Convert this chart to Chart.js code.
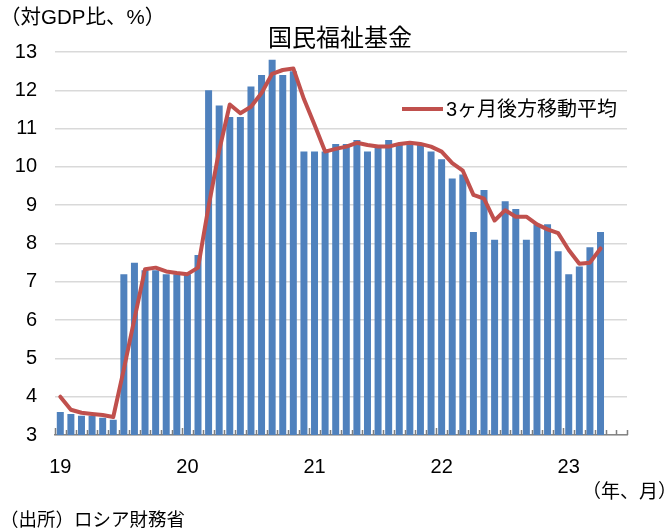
<!DOCTYPE html>
<html lang="ja">
<head>
<meta charset="utf-8">
<title>国民福祉基金</title>
<script src="https://cdn.jsdelivr.net/npm/chart.js@4.4.1/dist/chart.umd.min.js"></script>
<style>
  html, body { margin: 0; padding: 0; background: #fff; }
  body { font-family: "Liberation Sans", Arial, "Noto Sans CJK JP", sans-serif; color: #000; }
  #wrap { position: relative; width: 670px; height: 532px; overflow: hidden; }
  #wrap canvas { position: absolute; left: 0; top: 0; }
  .txt { position: absolute; white-space: nowrap; line-height: 1; }
  #unit { left: 0; top: 7px; font-size: 20.5px; }
  #title { left: 0; width: 680px; top: 26px; font-size: 24px; text-align: center; }
  #xunit { left: 582px; top: 482px; font-size: 19px; }
  #source { left: 0; top: 511px; font-size: 18.5px; }
  #legend { left: 402px; top: 97px; font-size: 20px; }
  #legend .swatch { display: inline-block; width: 41px; height: 4px; background: #C0504D; vertical-align: middle; margin-right: 3px; }
  #legend span { vertical-align: middle; }
</style>
</head>
<body>
<div id="wrap">
  <canvas id="fundChart" width="670" height="532"></canvas>
  <div class="txt" id="unit">（対GDP比、%）</div>
  <div class="txt" id="title">国民福祉基金</div>
  <div class="txt" id="legend"><i class="swatch"></i><span>3ヶ月後方移動平均</span></div>
  <div class="txt" id="xunit">（年、月）</div>
  <div class="txt" id="source">（出所）ロシア財務省</div>
</div>
<script>
// 年ラベル（各年の1月の位置に表示）
const yearLabels = ["19", "20", "21", "22", "23"];
const firstYear = 2019;
const monthCount = 54; // 2019年1月〜2023年6月（軸の枠）

// 国民福祉基金残高（対GDP比、%）2019年1月〜2023年4月
const fundValues = [
  3.6, 3.55, 3.5, 3.5, 3.45, 3.4,
  7.2, 7.5, 7.3, 7.3, 7.2, 7.2,
  7.2, 7.7, 12.0, 11.6, 11.3, 11.3, 12.1, 12.4, 12.8, 12.4, 12.5, 10.4,
  10.4, 10.4, 10.6, 10.6, 10.7, 10.4, 10.5, 10.7, 10.6, 10.6, 10.6, 10.4,
  10.2, 9.7, 9.8, 8.3, 9.4, 8.1, 9.1, 8.9, 8.1, 8.5, 8.5, 7.8,
  7.2, 7.4, 7.9, 8.3
];

// 3ヶ月後方移動平均
const movingAvgValues = [
  4.0, 3.66, 3.58, 3.55, 3.52, 3.47,
  4.72, 6.03, 7.33, 7.37, 7.27, 7.23,
  7.2, 7.37, 8.97, 10.43, 11.63, 11.4, 11.57, 11.93, 12.43, 12.53, 12.57, 11.77,
  11.1, 10.4, 10.47, 10.53, 10.63, 10.57, 10.53, 10.53, 10.6, 10.63, 10.6, 10.53,
  10.4, 10.1, 9.9, 9.27, 9.17, 8.6, 8.87, 8.7, 8.7, 8.5, 8.37, 8.27,
  7.83, 7.47, 7.5, 7.87
];

// 月のカテゴリ
const months = [];
for (let i = 0; i < monthCount; i++) {
  const y = firstYear + Math.floor(i / 12);
  const m = (i % 12) + 1;
  months.push(y + "-" + String(m).padStart(2, "0"));
}

const fontFamily = '"Liberation Sans", Arial, "Noto Sans CJK JP", sans-serif';

// x軸の内向き目盛り（カテゴリの境界）
const innerTicks = {
  id: "innerTicks",
  afterDatasetsDraw(chart) {
    const x = chart.scales.x;
    const ctx = chart.ctx;
    const step = x.width / monthCount;
    ctx.save();
    ctx.strokeStyle = "#7f7f7f";
    ctx.lineWidth = 1.5;
    for (let i = 0; i <= monthCount; i++) {
      const px = Math.round(x.left + step * i) + 0.5;
      const len = i % 12 === 0 ? 7 : 5;
      ctx.beginPath();
      ctx.moveTo(px, x.top);
      ctx.lineTo(px, x.top - len);
      ctx.stroke();
    }
    ctx.restore();
  }
};

new Chart(document.getElementById("fundChart"), {
  data: {
    labels: months,
    datasets: [
      {
        type: "line",
        label: "3ヶ月後方移動平均",
        data: movingAvgValues,
        borderColor: "#C0504D",
        borderWidth: 4,
        pointRadius: 0,
        tension: 0,
        borderJoinStyle: "round",
        borderCapStyle: "round",
        order: 0
      },
      {
        type: "bar",
        label: "国民福祉基金",
        data: fundValues,
        backgroundColor: "#4F81BD",
        barPercentage: 0.66,
        categoryPercentage: 1.0,
        order: 1
      }
    ]
  },
  options: {
    responsive: false,
    devicePixelRatio: 1,
    animation: false,
    layout: { padding: { left: 0, right: 43, top: 52, bottom: 37 } },
    plugins: {
      legend: { display: false },
      title: { display: false },
      tooltip: { enabled: false }
    },
    scales: {
      x: {
        offset: true,
        grid: { display: false, drawTicks: false },
        border: { display: true, color: "#868686", width: 1.5 },
        ticks: {
          autoSkip: false,
          maxRotation: 0,
          padding: 20,
          color: "#000",
          font: { family: fontFamily, size: 20 },
          callback: (value, index) => (index % 12 === 0 ? yearLabels[index / 12] : "")
        },
        afterFit: (scale) => { scale.height = 60; }
      },
      y: {
        min: 3,
        max: 13,
        ticks: {
          stepSize: 1,
          padding: 18,
          color: "#000",
          font: { family: fontFamily, size: 20 }
        },
        grid: { color: "#d9d9d9", lineWidth: 1.5, drawTicks: false },
        border: { display: false },
        afterFit: (scale) => { scale.width = 55; }
      }
    }
  },
  plugins: [innerTicks]
});
</script>
</body>
</html>
